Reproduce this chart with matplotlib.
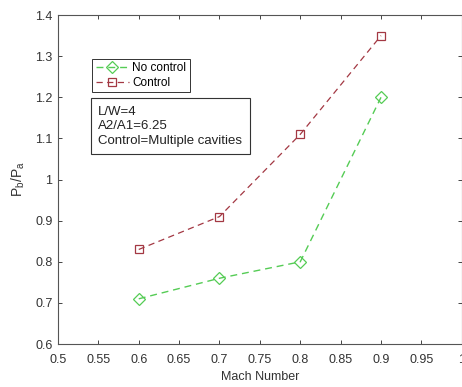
import matplotlib
matplotlib.use('Agg')
import matplotlib.pyplot as plt

plt.rcParams['font.family'] = ['Liberation Sans', 'DejaVu Sans']

# data
mach = [0.6, 0.7, 0.8, 0.9]
no_control = [0.71, 0.76, 0.80, 1.20]
control = [0.83, 0.91, 1.11, 1.35]

xticks = [0.5, 0.55, 0.6, 0.65, 0.7, 0.75, 0.8, 0.85, 0.9, 0.95, 1]
yticks = [0.6, 0.7, 0.8, 0.9, 1.0, 1.1, 1.2, 1.3, 1.4]

fig = plt.figure(figsize=(4.62, 3.87), dpi=100)
ax = fig.add_axes([0.1255, 0.111, 0.874, 0.85])

ax.plot(mach, no_control, color='#55cc55', ls='--', lw=1.0, dashes=(5, 3.5),
        marker='D', ms=6.5, mfc='none', mec='#55cc55', mew=0.9, label='No control')
ax.plot(mach, control, color='#a33843', ls='--', lw=0.9, dashes=(5, 3.5),
        marker='s', ms=5.5, mfc='none', mec='#a33843', mew=0.9, label='Control')

ax.set_xlim(0.5, 1.0)
ax.set_ylim(0.6, 1.4)
ax.set_xticks(xticks)
ax.set_xticklabels(['0.5', '0.55', '0.6', '0.65', '0.7', '0.75', '0.8', '0.85', '0.9', '0.95', '1'])
ax.set_yticks(yticks)
ax.set_yticklabels(['0.6', '0.7', '0.8', '0.9', '1', '1.1', '1.2', '1.3', '1.4'])
ax.tick_params(direction='in', top=True, right=True, labelsize=9, length=3,
               color='#444444', labelcolor='#333333', width=0.7, pad=4)
ax.tick_params(axis='x', pad=7)
for s in ax.spines.values():
    s.set_color('#555555')
    s.set_linewidth(0.8)

ax.set_xlabel('Mach Number', fontsize=9, color='#333333', labelpad=4)
ax.set_ylabel(r'P$_\mathregular{b}$/P$_\mathregular{a}$', fontsize=10, color='#333333', labelpad=6)

leg = ax.legend(loc='upper left', bbox_to_anchor=(0.085, 0.867), fontsize=8.5,
                frameon=True, fancybox=False, edgecolor='#333333', framealpha=1,
                handlelength=2.8, borderpad=0.3, labelspacing=0.2, handletextpad=0.3,
                borderaxespad=0)
leg.get_frame().set_linewidth(0.7)

ax.text(0.1, 0.725, 'L/W=4\nA2/A1=6.25\nControl=Multiple cavities', transform=ax.transAxes,
        fontsize=9.5, va='top', ha='left', linespacing=1.3, color='#222222',
        bbox=dict(boxstyle='square,pad=0.55', fc='white', ec='#333333', lw=0.8))

fig.savefig('out.png', dpi=100)
